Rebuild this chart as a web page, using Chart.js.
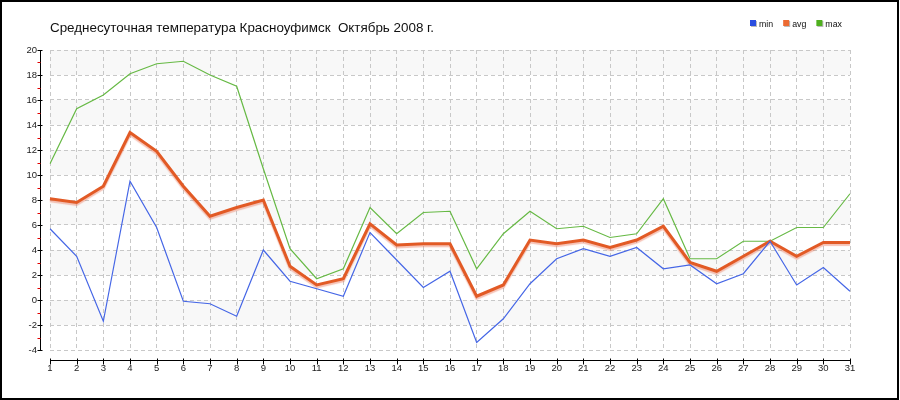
<!DOCTYPE html>
<html><head><meta charset="utf-8">
<script src="https://cdn.jsdelivr.net/npm/chart.js@4/dist/chart.umd.min.js"></script>
<style>html,body{margin:0;padding:0;background:#fff;}canvas{display:block;}</style>
</head><body>
<canvas id="c" width="900" height="400"></canvas>
<script>
const chartTitle = 'Среднесуточная температура Красноуфимск  Октябрь 2008 г.';
const days = ['1','2','3','4','5','6','7','8','9','10','11','12','13','14','15','16','17','18','19','20','21','22','23','24','25','26','27','28','29','30','31'];
const minTemp = [5.7,3.5,-1.7,9.5,5.8,-0.1,-0.3,-1.3,4.0,1.5,0.9,0.3,5.4,3.2,1.0,2.3,-3.4,-1.5,1.3,3.3,4.1,3.5,4.2,2.5,2.8,1.3,2.1,4.7,1.2,2.6,0.7];
const avgTemp = [8.1,7.8,9.1,13.4,11.9,9.1,6.7,7.4,8.0,2.7,1.2,1.7,6.1,4.4,4.5,4.5,0.3,1.2,4.8,4.5,4.8,4.2,4.8,5.9,3.0,2.3,3.5,4.7,3.5,4.6,4.6];
const maxTemp = [10.9,15.3,16.4,18.1,18.9,19.1,18.0,17.1,10.5,4.1,1.7,2.5,7.4,5.3,7.0,7.1,2.5,5.3,7.1,5.7,5.9,5.0,5.3,8.1,3.3,3.3,4.7,4.7,5.8,5.8,8.5];
const yMin = -4, yMax = 20, yStep = 2;

const tickFont = {family: '"Liberation Sans", Arial, sans-serif', size: 9.5};

const decor = {
  id: 'decor',
  beforeDraw(chart) {
    const {ctx, chartArea: a, scales: {y}} = chart;
    ctx.save();
    ctx.fillStyle = '#fff';
    ctx.fillRect(0, 0, chart.width, chart.height);
    ctx.fillStyle = '#f8f8f8';
    for (let v = y.max; v > y.min; v -= 2 * yStep) {
      const t = y.getPixelForValue(v), b = y.getPixelForValue(v - yStep);
      ctx.fillRect(a.left, t, a.right - a.left, b - t);
    }
    ctx.restore();
  },
  beforeDatasetDraw(chart, args) {
    if (args.index === 1) {
      const ctx = chart.ctx;
      ctx.save();
      ctx.shadowColor = 'rgba(235,120,90,0.45)';
      ctx.shadowOffsetX = 0;
      ctx.shadowOffsetY = 2;
      ctx.shadowBlur = 1;
    }
  },
  afterDatasetDraw(chart, args) {
    if (args.index === 1) chart.ctx.restore();
  },
  afterDraw(chart) {
    const {ctx, chartArea: a, scales: {x, y}} = chart;
    ctx.save();
    // y axis
    const x0 = Math.round(a.left - 10) + 0.5;
    ctx.strokeStyle = '#000';
    ctx.lineWidth = 1;
    ctx.beginPath();
    ctx.moveTo(x0, y.getPixelForValue(y.max));
    ctx.lineTo(x0, y.getPixelForValue(y.min) + 0.5);
    for (let v = y.min; v <= y.max; v += yStep) {
      const p = Math.round(y.getPixelForValue(v)) + 0.5;
      ctx.moveTo(x0 - 3, p); ctx.lineTo(x0 + 2, p);
    }
    ctx.stroke();
    ctx.strokeStyle = '#e00000';
    ctx.beginPath();
    for (let v = y.min + yStep / 2; v < y.max; v += yStep) {
      const p = Math.round(y.getPixelForValue(v)) + 0.5;
      ctx.moveTo(x0 - 3, p); ctx.lineTo(x0, p);
    }
    ctx.stroke();
    // x axis
    const y0 = Math.round(a.bottom + 10) + 0.5;
    ctx.strokeStyle = '#000';
    ctx.beginPath();
    ctx.moveTo(x.getPixelForValue(0), y0);
    ctx.lineTo(x.getPixelForValue(days.length - 1) + 1, y0);
    for (let i = 0; i < days.length; i++) {
      const p = Math.round(x.getPixelForValue(i)) + 0.5;
      ctx.moveTo(p, y0 - 2); ctx.lineTo(p, y0 + 4);
    }
    ctx.stroke();
    // frame
    ctx.lineWidth = 2;
    ctx.strokeRect(1, 1, chart.width - 3, chart.height - 2);
    // title
    ctx.fillStyle = '#111';
    ctx.font = '13.4px "Liberation Sans", Arial, sans-serif';
    ctx.textBaseline = 'middle';
    ctx.textAlign = 'left';
    ctx.fillText(chartTitle, a.left, 28);
    // legend
    ctx.font = '8.8px "Liberation Sans", Arial, sans-serif';
    ctx.textBaseline = 'alphabetic';
    let lx = 750;
    chart.data.datasets.forEach(ds => {
      ctx.fillStyle = '#bbb';
      ctx.fillRect(lx + 1, 21, 6, 6);
      ctx.fillStyle = ds.legendColor;
      ctx.fillRect(lx, 20, 6, 6);
      ctx.fillStyle = '#111';
      ctx.fillText(ds.label, lx + 9, 26.5);
      lx += 9 + ctx.measureText(ds.label).width + 10;
    });
    ctx.restore();
  }
};

new Chart(document.getElementById('c'), {
  type: 'line',
  data: {
    labels: days,
    datasets: [
      {label: 'min', data: minTemp, borderColor: '#4566e6', legendColor: '#2a4ee0', borderWidth: 1.2, pointRadius: 0, tension: 0},
      {label: 'avg', data: avgTemp, borderColor: '#e25a25', legendColor: '#ec6a32', borderWidth: 3, pointRadius: 0, tension: 0},
      {label: 'max', data: maxTemp, borderColor: '#66b944', legendColor: '#4fb01e', borderWidth: 1.2, pointRadius: 0, tension: 0}
    ]
  },
  options: {
    responsive: false,
    animation: false,
    layout: {padding: {left: 0, right: 50, top: 50, bottom: 0}},
    plugins: {legend: {display: false}, title: {display: false}, tooltip: {enabled: false}},
    scales: {
      x: {
        type: 'category',
        offset: false,
        afterFit(s) { s.height = 50; },
        grid: {color: '#c8c8c8', lineWidth: 1, drawTicks: false},
        border: {display: false, dash: [4, 3]},
        ticks: {font: tickFont, color: '#222', padding: 13, maxRotation: 0, autoSkip: false}
      },
      y: {
        min: yMin, max: yMax,
        afterFit(s) { s.width = 50; },
        grid: {color: '#c8c8c8', lineWidth: 1, drawTicks: false},
        border: {display: false, dash: [4, 3]},
        ticks: {font: tickFont, color: '#222', padding: 13, stepSize: yStep}
      }
    }
  },
  plugins: [decor]
});
</script>
</body></html>
